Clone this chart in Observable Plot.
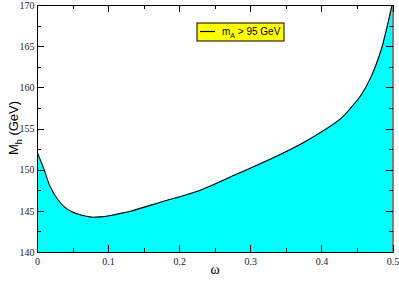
<!DOCTYPE html>
<html><head><meta charset="utf-8">
<script src="https://cdn.jsdelivr.net/npm/d3@7"></script>
<script src="https://cdn.jsdelivr.net/npm/@observablehq/plot@0.6"></script>
<style>body{margin:0;background:#fff} #chart{width:399px;height:286px}</style>
</head><body><div id="chart"></div>
<script>
const omega = [0, 0.009, 0.018, 0.028, 0.037, 0.047, 0.061, 0.075, 0.089, 0.103, 0.117, 0.131, 0.173, 0.23, 0.272, 0.324, 0.375, 0.427, 0.441, 0.455, 0.469, 0.483, 0.490, 0.497, 0.4995];
const mh = [152.05, 150.15, 147.95, 146.5, 145.6, 145.0, 144.55, 144.3, 144.33, 144.5, 144.75, 145.02, 146.1, 147.6, 149.2, 151.2, 153.4, 156.3, 157.6, 159.1, 161.3, 164.5, 166.8, 169.4, 170.5];
const xTicks = [0, 0.1, 0.2, 0.3, 0.4, 0.5];
const xMinor = [0.05, 0.15, 0.25, 0.35, 0.45];
const yTicks = [140, 145, 150, 155, 160, 165, 170];
const yMinor = [142.5, 147.5, 152.5, 157.5, 162.5, 167.5];
const legendMain = "m";
const legendSub = "A";
const legendRest = " > 95 GeV";
const xLabel = "ω";
const yLabelMain = "M";
const yLabelSub = "h";
const yLabelRest = " (GeV)";

const data = omega.map((x, i) => ({x, y: mh[i]}));
const serif = "Liberation Serif, Times New Roman, serif";
const sans = "Liberation Sans, Arial, Helvetica, sans-serif";
const fmt = d => d === 0 ? "0" : String(d);

const W = 399, H = 286, mL = 37, mR = 6.5, mT = 5, mB = 34;
const major = 7, minor = 4;

const plot = Plot.plot({
  width: W, height: H,
  marginLeft: mL, marginRight: mR, marginTop: mT, marginBottom: mB,
  x: {domain: [0, 0.5]},
  y: {domain: [140, 170]},
  style: {fontFamily: serif, fontSize: "10px", background: "#fff", color: "#000"},
  marks: [
    Plot.areaY(data, {x: "x", y1: 140, y2: "y", fill: "#00ffff", curve: "catmull-rom", clip: true}),
    Plot.lineY(data, {x: "x", y: "y", stroke: "#000", strokeWidth: 1.1, curve: "catmull-rom", clip: true}),
    Plot.axisX(xTicks, {anchor: "bottom", tickSize: 0, tickPadding: 5, tickFormat: fmt, label: null, fill: "#222", fontFamily: serif, fontSize: 10}),
    Plot.axisY(yTicks, {anchor: "left", tickSize: 0, tickPadding: 3, tickFormat: fmt, label: null, fill: "#222", fontFamily: serif, fontSize: 10}),
    Plot.frame({stroke: "#000"})
  ]
});
document.getElementById("chart").appendChild(plot);

const svg = d3.select(plot);
const sx = plot.scale("x"), sy = plot.scale("y");
const [x0, x1] = sx.range, [y0, y1] = sy.range; // y0 bottom, y1 top
const xLeft = Math.min(x0, x1), xRight = Math.max(x0, x1);
const yBottom = Math.max(y0, y1), yTop = Math.min(y0, y1);
const tg = svg.append("g").attr("stroke", "#000").attr("stroke-width", 1).attr("shape-rendering", "crispEdges");
const addX = (vals, len) => vals.forEach(v => {
  const px = Math.round(sx.apply(v)) + 0.5;
  tg.append("line").attr("x1", px).attr("x2", px).attr("y1", yBottom).attr("y2", yBottom - len);
  tg.append("line").attr("x1", px).attr("x2", px).attr("y1", yTop).attr("y2", yTop + len);
});
const addY = (vals, len) => vals.forEach(v => {
  const py = Math.round(sy.apply(v)) + 0.5;
  tg.append("line").attr("x1", xLeft).attr("x2", xLeft + len).attr("y1", py).attr("y2", py);
  tg.append("line").attr("x1", xRight).attr("x2", xRight - len).attr("y1", py).attr("y2", py);
});
addX(xTicks, major); addX(xMinor, minor);
addY(yTicks, major); addY(yMinor, minor);

svg.append("text").attr("x", 215).attr("y", 274).attr("text-anchor", "middle")
  .attr("font-family", serif).attr("font-size", 14).text(xLabel);
const yl = svg.append("text").attr("transform", "translate(18,128) rotate(-90)")
  .attr("text-anchor", "middle").attr("font-family", sans).attr("font-size", 13);
yl.append("tspan").text(yLabelMain);
yl.append("tspan").attr("font-size", 9).attr("dy", 4).text(yLabelSub);
yl.append("tspan").attr("dy", -4).text(yLabelRest);
const lg = svg.append("g");
lg.append("rect").attr("x", 197).attr("y", 23).attr("width", 87).attr("height", 18)
  .attr("fill", "#ffff00").attr("stroke", "#000").attr("stroke-width", 1);
lg.append("line").attr("x1", 200).attr("x2", 215).attr("y1", 31.5).attr("y2", 31.5)
  .attr("stroke", "#000").attr("stroke-width", 1.2);
const lt = lg.append("text").attr("x", 222).attr("y", 35).attr("text-anchor", "start")
  .attr("font-family", sans).attr("font-size", 10);
lt.append("tspan").text(legendMain);
lt.append("tspan").attr("font-size", 7).attr("dy", 3).text(legendSub);
lt.append("tspan").attr("dy", -3).text(legendRest);
</script>
</body></html>
